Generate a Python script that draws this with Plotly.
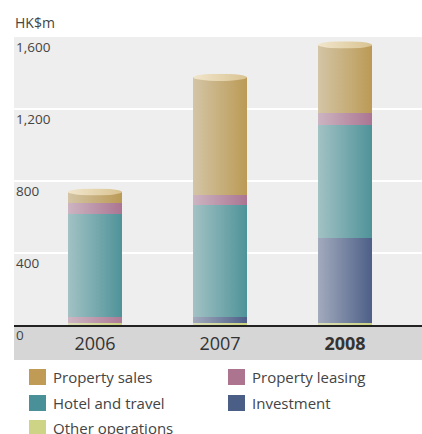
import base64
import plotly.graph_objects as go

years = ["2006", "2007", "2008"]
year_labels = ["2006", "2007", "<b>2008</b>"]
other_operations = [10, 13, 9]
investment = [33, 33, 476]
hotel_travel = [574, 620, 626]
property_leasing = [61, 56, 65]
property_sales = [61, 654, 380]
y_ticks = [0, 400, 800, 1200, 1600]
y_tick_labels = ["0", "400", "800", "1,200", "1,600"]

series = [
    ("Other operations", other_operations, "#cbd27f"),
    ("Investment", investment, ["#ad7a96", "#4d5f88", "#4d5f88"]),
    ("Hotel and travel", hotel_travel, "#4e9399"),
    ("Property leasing", property_leasing, "#ab7592"),
    ("Property sales", property_sales, "#bb9a55"),
]
legend_items = [
    ("Property sales", "#bf9b55"), ("Property leasing", "#ad7490"),
    ("Hotel and travel", "#4a9098"), ("Investment", "#4a5e86"),
    ("Other operations", "#cdd485"),
]

W, H = 422, 434
L, T, B = 14, 37, 109
PW, PH = W - L, H - T - B
BAR_W = 0.432
FONT = "Open Sans"

fig = go.Figure()
xs = list(range(len(years)))
for name, vals, col in series:
    fig.add_trace(go.Bar(x=xs, y=vals, name=name, width=BAR_W,
                         marker=dict(color=col, line=dict(width=0)),
                         showlegend=False, hoverinfo="skip"))

def svg_uri(svg):
    return "data:image/svg+xml;base64," + base64.b64encode(svg.encode()).decode()

overlay = svg_uri(
    '<svg xmlns="http://www.w3.org/2000/svg" width="100" height="100" viewBox="0 0 100 100" preserveAspectRatio="none">'
    '<defs><linearGradient id="g" x1="0" x2="1" y1="0" y2="0">'
    '<stop offset="0" stop-color="#e8e8e8" stop-opacity="0.55"/>'
    '<stop offset="1" stop-color="#e8e8e8" stop-opacity="0"/></linearGradient></defs>'
    '<rect width="100" height="100" fill="url(#g)"/></svg>')
cap = svg_uri(
    '<svg xmlns="http://www.w3.org/2000/svg" width="100" height="20" viewBox="0 0 100 20" preserveAspectRatio="none">'
    '<defs><linearGradient id="c" x1="0" x2="1" y1="0" y2="0">'
    '<stop offset="0" stop-color="#f1e6cc"/><stop offset="1" stop-color="#d9c391"/></linearGradient></defs>'
    '<ellipse cx="50" cy="10" rx="50" ry="10" fill="url(#c)"/></svg>')

totals = [sum(v[i] for _, v, _ in series) for i in xs]
RY = 20
images = []
for i, tot in zip(xs, totals):
    images.append(dict(source=overlay, xref="x", yref="y", x=i - BAR_W / 2, y=tot,
                       sizex=BAR_W, sizey=tot, xanchor="left", yanchor="top",
                       sizing="stretch", layer="above"))
for i, tot in zip(xs, totals):
    images.append(dict(source=cap, xref="x", yref="y", x=i - BAR_W / 2, y=tot + RY,
                       sizex=BAR_W, sizey=2 * RY, xanchor="left", yanchor="top",
                       sizing="stretch", layer="above"))

def px(xp):
    return (xp - L) / PW

def py(yp):
    return (H - B - yp) / PH

shapes = [dict(type="rect", xref="paper", yref="paper", x0=0, x1=1, y0=py(360), y1=0,
               fillcolor="#d6d6d6", line=dict(width=0), layer="below")]
annotations = []
for v, lab in zip(y_ticks, y_tick_labels):
    annotations.append(dict(x=0, y=v, xref="paper", yref="y", text=lab, showarrow=False,
                            xanchor="left", yanchor="top", xshift=0, yshift=1,
                            font=dict(family=FONT, size=13.5, color="#444")))
annotations.append(dict(x=px(13), y=py(22), xref="paper", yref="paper", text="HK$m",
                        showarrow=False, xanchor="left", yanchor="middle",
                        font=dict(family=FONT, size=14, color="#444")))

positions = [(29, 377), (228, 377), (29, 403), (228, 403), (29, 428)]
for (name, col), (lx, ly) in zip(legend_items, positions):
    shapes.append(dict(type="rect", xref="paper", yref="paper", x0=px(lx), x1=px(lx + 17),
                       y0=py(ly + 8), y1=py(ly - 8), fillcolor=col, line=dict(width=0)))
    annotations.append(dict(x=px(lx + 22), y=py(ly), xref="paper", yref="paper", text=name,
                            showarrow=False, xanchor="left", yanchor="middle",
                            font=dict(family=FONT, size=15, color="#444")))

fig.update_layout(
    width=W, height=H, barmode="stack",
    margin=dict(l=L, r=0, t=T, b=B, pad=0),
    paper_bgcolor="white", plot_bgcolor="#eeeeee",
    font=dict(family=FONT),
    xaxis=dict(range=[-0.648, 2.616], tickvals=xs, ticktext=year_labels, showgrid=False,
               zeroline=False, showline=True, linecolor="#222", linewidth=1.5, ticks="",
               ticklabelstandoff=2,
               tickfont=dict(family=FONT, size=18, color="#333"), fixedrange=True),
    yaxis=dict(range=[0, 1600], tickvals=y_ticks, showticklabels=False, showgrid=True,
               gridcolor="white", gridwidth=1.5, zeroline=False, fixedrange=True),
    images=images, shapes=shapes, annotations=annotations, showlegend=False,
)
fig.write_html("out.html", config={"displayModeBar": False})
